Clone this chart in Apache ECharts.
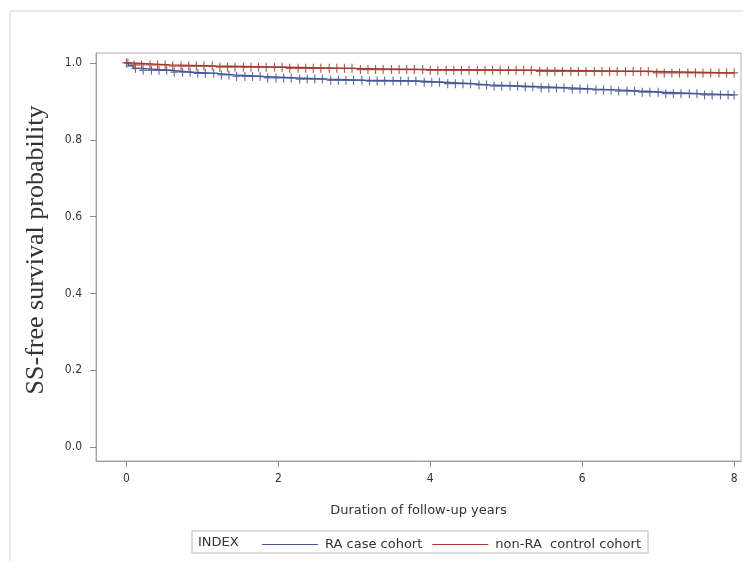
<!DOCTYPE html>
<html>
<head>
<meta charset="utf-8">
<script src="https://cdn.jsdelivr.net/npm/echarts@6/dist/echarts.min.js"></script>
<style>
html,body{margin:0;padding:0;background:#fff;}
#main{width:743px;height:561px;}
</style>
</head>
<body>
<div id="main"></div>
<script>
// 刻度
var xTicks = [0, 2, 4, 6, 8];
var yTicks = [0, 0.2, 0.4, 0.6, 0.8, 1.0];

// RA case cohort 生存曲线 (阶梯)
var raTimes = [0, 0.03, 0.09, 0.18, 0.58, 0.86, 1.19, 1.43, 1.8, 2.26, 2.66, 3.14, 3.84, 4.17, 4.57, 4.76, 5.18, 5.45, 5.87, 6.17, 6.46, 6.76, 7.07, 7.55, 8.0];
var raSurv  = [1.0, 0.993, 0.986, 0.981, 0.976, 0.973, 0.969, 0.965, 0.961, 0.958, 0.955, 0.953, 0.950, 0.946, 0.943, 0.940, 0.938, 0.935, 0.932, 0.930, 0.927, 0.924, 0.920, 0.917, 0.917];

// non-RA control cohort
var ctrlTimes = [0, 0.075, 0.58, 1.17, 2.09, 2.99, 3.96, 5.38, 6.96, 8.0];
var ctrlSurv  = [1.0, 0.995, 0.992, 0.989, 0.986, 0.983, 0.981, 0.978, 0.974, 0.974];

// 删失时间点
var raCensor = [
  0.02, 0.12, 0.22, 0.33, 0.43, 0.53, 0.63, 0.74, 0.84, 0.94,
  1.04, 1.15, 1.25, 1.35, 1.45, 1.56, 1.66, 1.76, 1.86, 1.97,
  2.07, 2.17, 2.28, 2.38, 2.48, 2.58, 2.69, 2.79, 2.89, 2.99,
  3.10, 3.20, 3.30, 3.40, 3.51, 3.61, 3.71, 3.81, 3.92, 4.02,
  4.12, 4.23, 4.33, 4.43, 4.53, 4.64, 4.74, 4.84, 4.94, 5.05,
  5.15, 5.25, 5.35, 5.46, 5.56, 5.66, 5.76, 5.87, 5.97, 6.07,
  6.18, 6.28, 6.38, 6.48, 6.59, 6.69, 6.79, 6.89, 7.00, 7.10,
  7.20, 7.30, 7.41, 7.51, 7.61, 7.71, 7.82, 7.92, 8.0
];
var ctrlCensor = [
  0.0, 0.10, 0.20, 0.31, 0.41, 0.51, 0.61, 0.72, 0.82, 0.92,
  1.02, 1.13, 1.23, 1.33, 1.43, 1.54, 1.64, 1.74, 1.84, 1.95,
  2.05, 2.15, 2.26, 2.36, 2.46, 2.56, 2.67, 2.77, 2.87, 2.97,
  3.08, 3.18, 3.28, 3.38, 3.49, 3.59, 3.69, 3.79, 3.90, 4.00,
  4.10, 4.21, 4.31, 4.41, 4.51, 4.62, 4.72, 4.82, 4.92, 5.03,
  5.13, 5.23, 5.33, 5.44, 5.54, 5.64, 5.74, 5.85, 5.95, 6.05,
  6.16, 6.26, 6.36, 6.46, 6.57, 6.67, 6.77, 6.87, 6.98, 7.08,
  7.18, 7.28, 7.39, 7.49, 7.59, 7.69, 7.80, 7.90, 8.0
];

var blue = '#445694';
var red = '#a23a2e';
var plusIcon = 'path://M4.3,0 H5.7 V4.3 H10 V5.7 H5.7 V10 H4.3 V5.7 H0 V4.3 H4.3 Z';

function pairs(ts, ss){
  var out = [];
  for (var i = 0; i < ts.length; i++) out.push([ts[i], ss[i]]);
  return out;
}
// 在阶梯曲线上查删失点的纵坐标
function censorPts(cs, ts, ss){
  var out = [];
  for (var i = 0; i < cs.length; i++) {
    var v = ss[0];
    for (var j = 0; j < ts.length; j++) { if (ts[j] <= cs[i]) v = ss[j]; }
    out.push([cs[i], v]);
  }
  return out;
}

var chart = echarts.init(document.getElementById('main'));
var labelFont = 'DejaVu Sans Condensed, DejaVu Sans, sans-serif';
var legendFont = 'DejaVu Sans, sans-serif';

var option = {
  animation: false,
  backgroundColor: '#fff',
  graphic: [
    { type: 'rect', shape: { x: 10, y: 11, width: 745, height: 560 },
      style: { fill: 'none', stroke: '#d4d4d4', lineWidth: 1 }, z: -100 },
    { type: 'rect', shape: { x: 192, y: 531, width: 456, height: 22 },
      style: { fill: 'none', stroke: '#b8b8b8', lineWidth: 1 }, z: 0 },
    { type: 'text', x: 198, y: 543,
      style: { text: 'INDEX', fontSize: 13, fill: '#333', fontFamily: legendFont,
               textVerticalAlign: 'middle' }, z: 5 },
    { type: 'text', x: 36, y: 250, rotation: Math.PI / 2,
      style: { text: 'SS-free survival probability', fontSize: 26, fill: '#333',
               textAlign: 'center', textVerticalAlign: 'middle',
               fontFamily: 'Liberation Serif, DejaVu Serif, serif' }, z: 5 }
  ],
  grid: { left: 96, right: 2, top: 53, bottom: 100, show: true,
          borderColor: '#b0b0b0', borderWidth: 1 },
  legend: {
    left: 257, top: 533,
    icon: 'rect', itemWidth: 56, itemHeight: 1.2, itemGap: 10,
    textStyle: { fontSize: 13, color: '#333', fontFamily: legendFont, padding: [0, 0, 0, 2] },
    data: ['RA case cohort', 'non-RA  control cohort']
  },
  xAxis: {
    type: 'value', min: -0.4, max: 8.09,
    name: 'Duration of follow-up years', nameLocation: 'middle', nameGap: 43,
    nameTextStyle: { fontSize: 13, color: '#333', fontFamily: legendFont },
    splitLine: { show: false },
    axisLine: { show: true, onZero: false, lineStyle: { color: '#a0a0a0' } },
    axisTick: { show: true, inside: false, customValues: xTicks, length: 6, lineStyle: { color: '#8c8c8c', width: 1 } },
    axisLabel: { customValues: xTicks, fontSize: 12, color: '#333', margin: 12, fontFamily: labelFont }
  },
  yAxis: {
    type: 'value', min: -0.036, max: 1.026,
    splitLine: { show: false },
    axisLine: { show: true, onZero: false, lineStyle: { color: '#a0a0a0' } },
    axisTick: { show: true, inside: false, customValues: yTicks, length: 6, lineStyle: { color: '#8c8c8c', width: 1 } },
    axisLabel: { customValues: yTicks, fontSize: 12, color: '#333', margin: 14, fontFamily: labelFont,
                 formatter: function(v){ return v.toFixed(1); } }
  },
  series: [
    { name: 'RA case cohort', type: 'line', step: 'end', showSymbol: false,
      color: blue, lineStyle: { width: 1.4, color: blue },
      data: pairs(raTimes, raSurv), z: 3 },
    { name: 'non-RA  control cohort', type: 'line', step: 'end', showSymbol: false,
      color: red, lineStyle: { width: 1.4, color: red },
      data: pairs(ctrlTimes, ctrlSurv), z: 3 },
    { name: 'RA censor', type: 'scatter', symbol: plusIcon, symbolSize: [8, 9],
      itemStyle: { color: blue, opacity: 0.85 },
      data: censorPts(raCensor, raTimes, raSurv), z: 4 },
    { name: 'ctrl censor', type: 'scatter', symbol: plusIcon, symbolSize: [8, 9],
      itemStyle: { color: red, opacity: 0.85 },
      data: censorPts(ctrlCensor, ctrlTimes, ctrlSurv), z: 4 }
  ]
};
chart.setOption(option);
</script>
</body>
</html>
